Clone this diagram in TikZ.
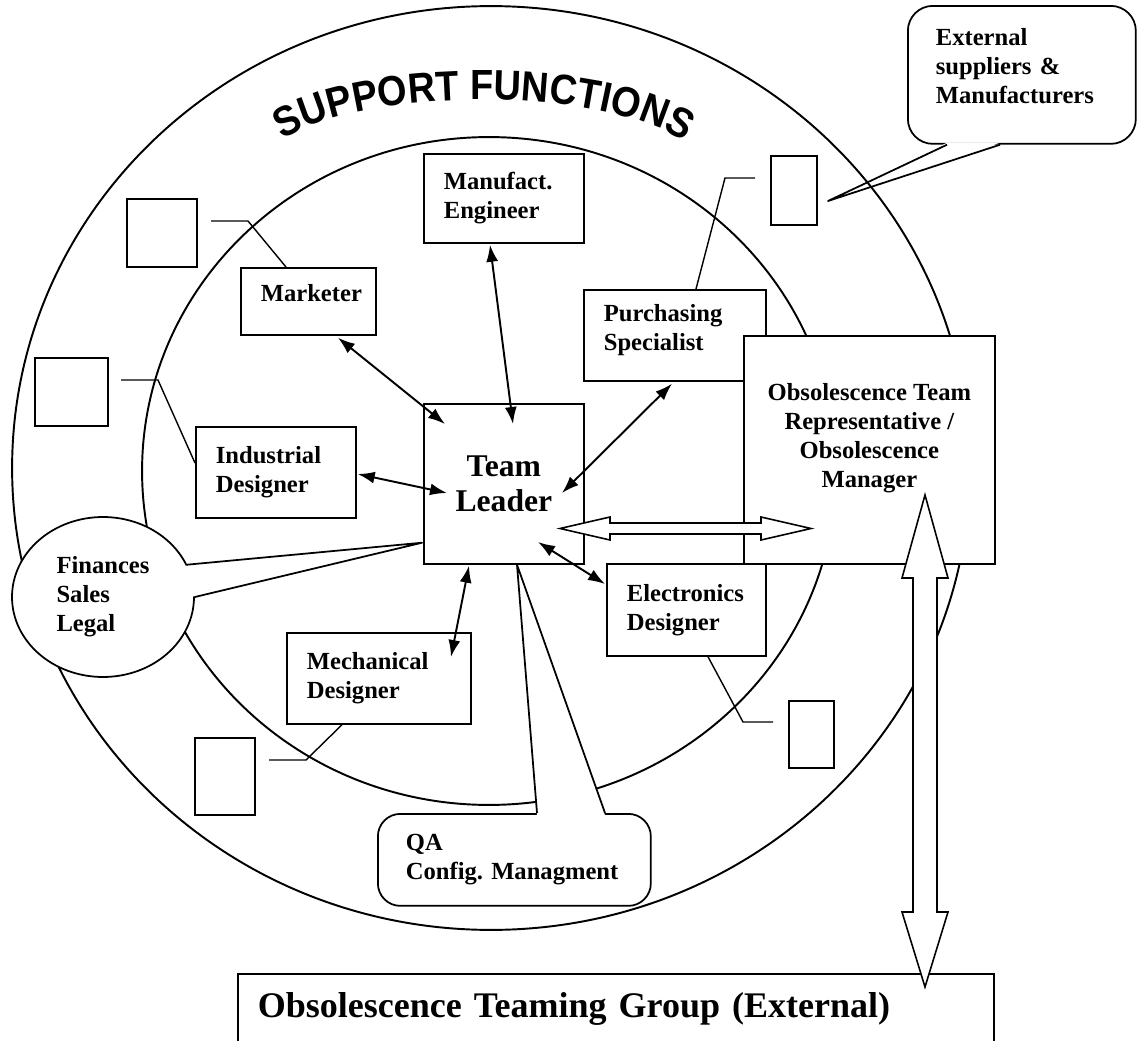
\documentclass[tikz,border=0pt]{standalone}
\usepackage{fontspec}
\setmainfont{Liberation Serif}
\setsansfont{Liberation Sans}
\newfontfamily\arcfamily[FakeStretch=0.9]{Liberation Sans}
\usepackage{tikz}
\usetikzlibrary{positioning, calc, shapes.geometric, decorations.text, arrows.meta}
\frenchspacing
\newcommand{\rolefont}{\bfseries\fontsize{14}{16.5}\selectfont}
\newcommand{\leadfont}{\bfseries\fontsize{18}{20}\selectfont}
\newcommand{\groupfont}{\bfseries\fontsize{20.5}{24}\selectfont}
\newcommand{\arcfont}{\arcfamily\bfseries\fontsize{24}{28}\selectfont}
\tikzset{>={Latex[length=3.4mm,width=2.4mm]},
ring/.style={ellipse, draw, line width=1.1pt, inner sep=0pt},
role/.style={draw, fill=white, line width=1pt, anchor=north west, align=left, inner xsep=0.4cm, font=\rolefont},
note/.style={role, rounded corners=0.5cm, inner xsep=0.56cm},
spare/.style={draw, fill=white, line width=0.9pt, anchor=north west, inner sep=0pt},
lead/.style={line width=0.8pt},
link/.style={<->, line width=1.1pt},
callline/.style={line width=1pt, line join=round},
fat/.style={draw, fill=white, line width=0.9pt},
}

\begin{document}
\begin{tikzpicture}[x=0.02cm, y=-0.02cm]
\useasboundingbox (0,0) rectangle (1137,1041);

% suppliers callout, under the rings
\node[note, minimum width=4.56cm, minimum height=2.76cm, text width=3.44cm, text depth=1.52cm] (ext) at (907,5) {External\\suppliers \&\\Manufacturers};
\coordinate (extTip) at (828,201);
\fill[white] ($(ext.south west)+(40,-2)$) -- (extTip) -- ($(ext.south west)+(93,-2)$) -- cycle;
\draw[callline] ($(ext.south west)+(40,0)$) -- (extTip) -- ($(ext.south west)+(93,0)$);

\node[ring, minimum width=19.16cm, minimum height=18.48cm] (outer) at (491,468) {};
\node[ring, minimum width=13.88cm, minimum height=13.36cm] (inner) at (489,471) {};

\path[decorate, decoration={text along path, text align=center, text={|\arcfont|SUPPORT FUNCTIONS}}]
    (262,158) .. controls (322,80) and (645,80) .. (705,160);

% team members
\node[role, minimum height=1.78cm, text width=2.4cm] (manu) at (423,153) {Manufact.\\Engineer};
\node[role, minimum height=1.34cm, text width=1.9cm, text depth=0.32cm] (mark) at (240,267) {Marketer};
\node[role, minimum height=1.82cm, text width=2.84cm, text depth=0.89cm] (purch) at (583,289) {Purchasing\\Specialist};
\node[role, minimum height=1.82cm, text width=2.4cm] (ind) at (195,426) {Industrial\\Designer};
\node[role, font=\leadfont, align=center, minimum width=3.2cm, minimum height=3.2cm] (tl) at (423,403) {Team\\Leader};
\node[role, minimum height=1.84cm, text width=2.38cm] (elec) at (606,563) {Electronics\\Designer};
\node[role, minimum height=1.82cm, text width=2.88cm] (mech) at (286,632) {Mechanical\\Designer};
\node[role, align=center, inner xsep=0.1cm, minimum width=5.02cm, minimum height=4.56cm] (obs) at (743,335)
    {Obsolescence Team\\Representative /\\Obsolescence\\Manager\\~};

% empty boxes in the outer ring
\node[spare, minimum width=1.4cm, minimum height=1.36cm] (e1) at (126,198) {};
\node[spare, minimum width=1.46cm, minimum height=1.36cm] (e2) at (34,357) {};
\node[spare, minimum width=1.2cm, minimum height=1.54cm] (e3) at (194,737) {};
\node[spare, minimum width=0.9cm, minimum height=1.34cm] (e4) at (788,700) {};
\node[spare, minimum width=0.92cm, minimum height=1.38cm] (e5) at (770,155) {};

\coordinate (k1) at (211,221);
\coordinate (k2) at (121,380);
\coordinate (k3) at (269,760);
\coordinate (k4) at (773,722);
\coordinate (k5) at (755,178);
\draw[lead] (k1) -- ++(37,0) -- ($(mark.north west)+(46,0)$);
\draw[lead] (k2) -- ++(37,0) -- ($(ind.north west)+(0,37)$);
\draw[lead] (k3) -- ++(37,0) -- ($(mech.south west)+(56,0)$);
\draw[lead] (k4) -- ++(-30,0) -- ($(elec.south west)+(102,0)$);
\draw[lead] (k5) -- ++(-30,0) -- ($(purch.north west)+(113,0)$);

\draw[link] ($(mark.south west)+(98,2)$) -- ($(tl.north west)+(22,21)$);
\draw[link] ($(manu.south west)+(67,1)$) -- ($(tl.north west)+(90,21)$);
\draw[link] ($(purch.south west)+(89,2)$) -- ($(tl.north west)+(139,90)$);
\draw[link] ($(ind.north east)+(1,48)$) -- ($(tl.north west)+(24,90)$);
\draw[link] ($(elec.north west)+(-1,21)$) -- ($(tl.north west)+(115,139)$);
\draw[link] ($(mech.north west)+(165,25)$) -- ($(tl.south west)+(46,1)$);

% callouts pointing at the team leader
\node[note, rounded corners=0.45cm, minimum width=5.46cm, minimum height=1.84cm, text width=4.34cm] (qa) at (377,813) {QA\\Config. Managment};
\coordinate (qaTip) at ($(tl.south west)+(94,0)$);
\fill[white] ($(qa.north west)+(160,2)$) -- (qaTip) -- ($(qa.north west)+(228,2)$) -- cycle;
\draw[callline] ($(qa.north west)+(160,0)$) -- (qaTip) -- ($(qa.north west)+(228,0)$);

\node[ellipse, draw, fill=white, line width=1pt, inner sep=0pt, align=left, font=\rolefont,
    minimum width=3.64cm, minimum height=3.2cm] (fin) at (103,597) {Finances\\Sales\\Legal};
\coordinate (finTip) at ($(tl.south west)+(-1,-22)$);
\fill[white] ($(fin.21)!0.04!(fin.center)$) -- (finTip) -- ($(fin.0)!0.04!(fin.center)$) -- cycle;
\draw[callline] (fin.21) -- (finTip) -- (fin.0);

\node[role, font=\groupfont, minimum height=1.6cm, text width=14.32cm, text depth=0.35cm] (btm) at (237,973)
    {Obsolescence Teaming Group (External)};

% wide open arrows
\coordinate (ha) at ($(tl.north west)+(137,125.5)$);
\coordinate (hb) at ($(obs.north west)+(68,193.5)$);
\draw[fat] (ha) -- ++(50,-11.5) -- ++(0,6) -- ($(hb)+(-50,-5.5)$) -- ++(0,-6) -- (hb)
    -- ++(-50,11.5) -- ++(0,-6) -- ($(ha)+(50,5.5)$) -- ++(0,6) -- cycle;
\coordinate (va) at ($(obs.north west)+(182,160)$);
\coordinate (vb) at ($(btm.north west)+(688,14)$);
\draw[fat] (va) -- ++(23,83) -- ++(-11,0) -- ($(vb)+(12,-75)$) -- ++(11,0) -- (vb)
    -- ++(-23,-75) -- ++(11,0) -- ($(va)+(-12,83)$) -- ++(-11,0) -- cycle;
\end{tikzpicture}
\end{document}
